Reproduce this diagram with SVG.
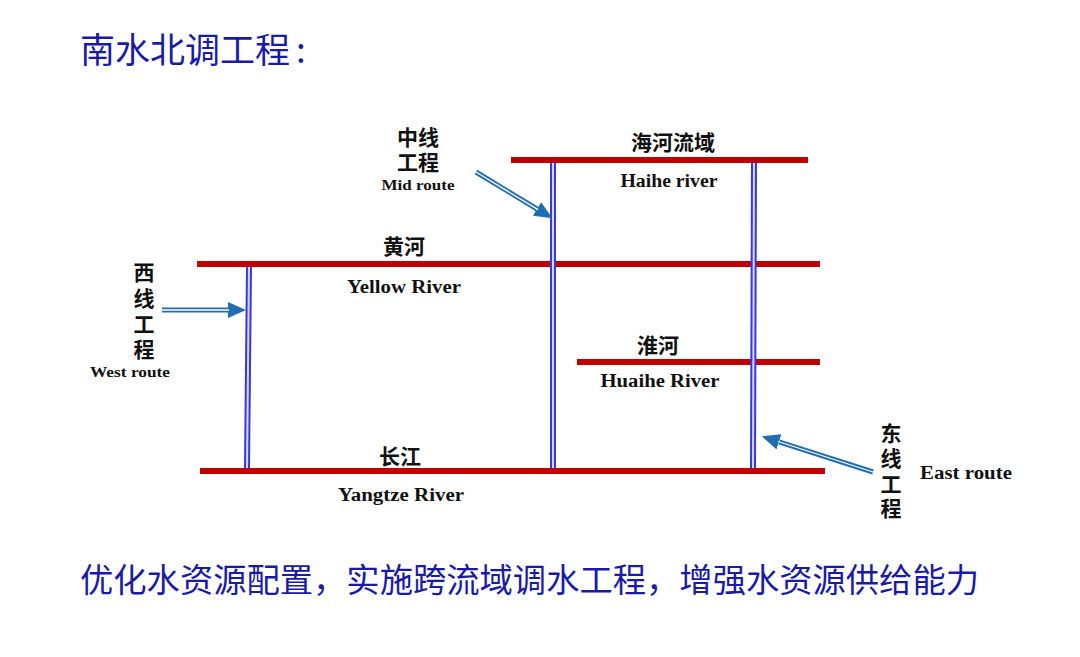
<svg xmlns="http://www.w3.org/2000/svg" width="1080" height="657" viewBox="0 0 1080 657">
<defs>
<style>
.river{stroke:#c00000;stroke-width:6;fill:none}
.canal{stroke:#3838e0;stroke-width:6;fill:none}
.canalin{stroke:#d8d8ff;stroke-width:2;fill:none}
.shaft{stroke:#1f6db3;stroke-width:5;fill:none}
.shaftin{stroke:#ffffff;stroke-width:1.3;fill:none}
.cn{font-family:"Noto Sans CJK SC","Noto Sans",sans-serif;font-weight:bold;font-size:21px;fill:#111;text-anchor:middle}
.en{font-family:"Liberation Serif",serif;font-weight:bold;font-size:18px;fill:#111;text-anchor:middle}
.ens{font-family:"Liberation Serif",serif;font-weight:bold;font-size:15px;fill:#111;text-anchor:middle}
.blue{font-family:"Noto Sans CJK SC","Noto Sans",sans-serif;fill:#1a1aa8}
</style>
<marker id="ah" markerUnits="userSpaceOnUse" markerWidth="18" markerHeight="16" refX="0" refY="8" orient="auto" viewBox="0 0 18 16">
<path d="M0,0 L18,8 L0,16 z" fill="#1f6db3"/>
</marker>
</defs>
<rect width="1080" height="657" fill="#ffffff"/>
<text id="title" class="blue" x="80" y="63" font-size="35">南水北调工程<tspan dx="6">:</tspan></text>

<g id="rivers">
<g id="haihe"><line class="river" x1="511" y1="160" x2="808" y2="160"/>
<text class="cn" x="673" y="150">海河流域</text>
<text class="en" x="669" y="187" textLength="97" lengthAdjust="spacingAndGlyphs">Haihe river</text></g>
<g id="yellow"><line class="river" x1="197" y1="264" x2="820" y2="264"/>
<text class="cn" x="404" y="254">黄河</text>
<text class="en" x="404" y="293" textLength="114" lengthAdjust="spacingAndGlyphs">Yellow River</text></g>
<g id="huaihe"><line class="river" x1="577" y1="362" x2="820" y2="362"/>
<text class="cn" x="658" y="353">淮河</text>
<text class="en" x="660" y="387" textLength="119" lengthAdjust="spacingAndGlyphs">Huaihe River</text></g>
<g id="yangtze"><line class="river" x1="200" y1="471" x2="825" y2="471"/>
<text class="cn" x="400" y="464">长江</text>
<text class="en" x="401" y="501" textLength="126" lengthAdjust="spacingAndGlyphs">Yangtze River</text></g>
</g>

<g id="canals">
<g id="west-canal"><line class="canal" x1="249" y1="267" x2="247" y2="468"/><line class="canalin" x1="249" y1="267" x2="247" y2="468"/></g>
<g id="mid-canal"><line class="canal" x1="553" y1="163" x2="553" y2="468"/><line class="canalin" x1="553" y1="163" x2="553" y2="468"/></g>
<g id="east-canal"><line class="canal" x1="754" y1="163" x2="753" y2="468"/><line class="canalin" x1="754" y1="163" x2="753" y2="468"/></g>
</g>

<g id="connectors">
<path class="shaft" d="M162,310 L228,310" marker-end="url(#ah)"/>
<path class="shaftin" d="M162,310 L229,310"/>
<path class="shaft" d="M476,172 L537,209" marker-end="url(#ah)"/>
<path class="shaftin" d="M476,172 L538,209.6"/>
<path class="shaft" d="M873,472 L779,441.8" marker-end="url(#ah)"/>
<path class="shaftin" d="M873,472 L778,441.5"/>
</g>

<g id="west-label">
<text class="cn" x="144" y="280">西</text>
<text class="cn" x="144" y="306">线</text>
<text class="cn" x="144" y="332">工</text>
<text class="cn" x="144" y="357">程</text>
<text class="ens" x="130" y="377" textLength="80" lengthAdjust="spacingAndGlyphs">West route</text>
</g>
<g id="mid-label">
<text class="cn" x="418" y="145">中线</text>
<text class="cn" x="418" y="170">工程</text>
<text class="ens" x="418" y="190" textLength="73" lengthAdjust="spacingAndGlyphs">Mid route</text>
</g>
<g id="east-label">
<text class="cn" x="891" y="441">东</text>
<text class="cn" x="891" y="466">线</text>
<text class="cn" x="891" y="492">工</text>
<text class="cn" x="891" y="516">程</text>
<text class="en" x="966" y="479" textLength="92" lengthAdjust="spacingAndGlyphs">East route</text>
</g>

<text id="summary" class="blue" x="80" y="592" font-size="33.3">优化水资源配置，实施跨流域调水工程，增强水资源供给能力</text>
</svg>
